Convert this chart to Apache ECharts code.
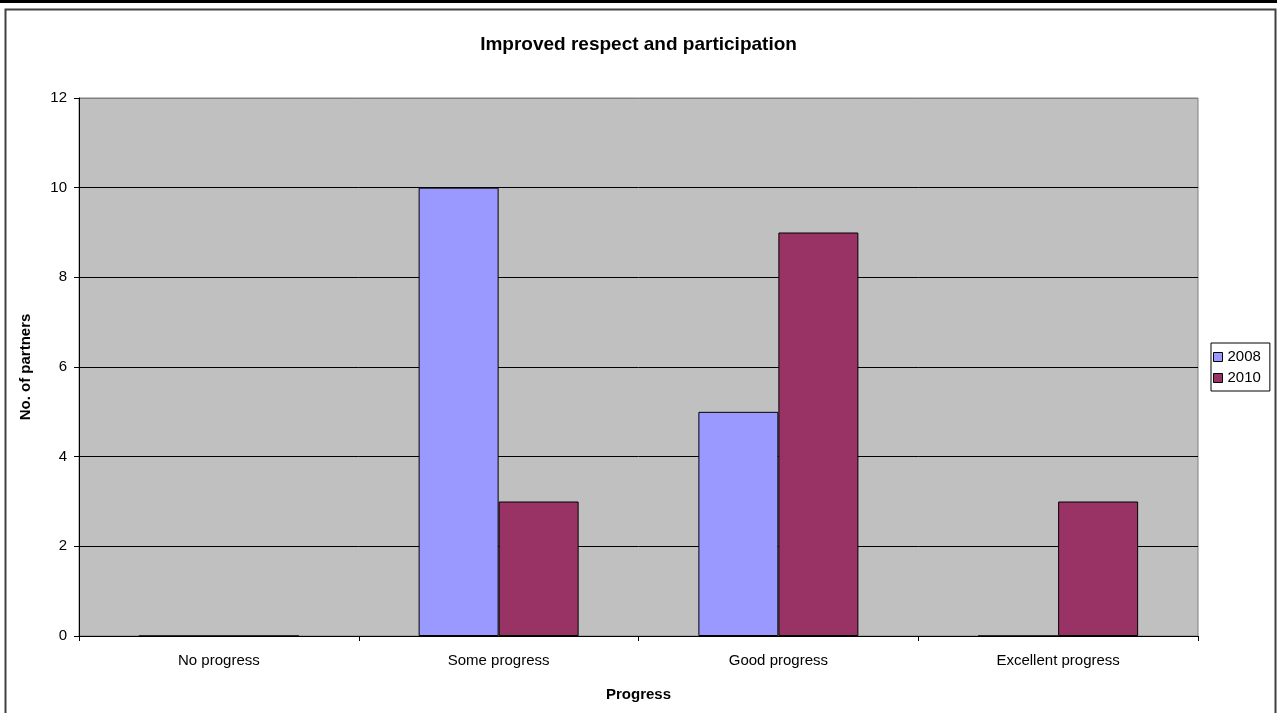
<!DOCTYPE html>
<html>
<head>
<meta charset="utf-8">
<script src="https://cdn.jsdelivr.net/npm/echarts@6/dist/echarts.min.js"></script>
<style>
  html, body { margin: 0; padding: 0; background: #fff; }
  #chart { width: 1277px; height: 713px; }
</style>
</head>
<body>
<div id="chart"></div>
<script>
// Category labels along the x axis
const categories = ['No progress', 'Some progress', 'Good progress', 'Excellent progress'];
// Number of partners per year
const values2008 = [0, 10, 5, 0];
const values2010 = [0, 3, 9, 3];
const seriesNames = ['2008', '2010'];

const chart = echarts.init(document.getElementById('chart'));
const font = 'Liberation Sans, Arial, sans-serif';

chart.setOption({
  animation: false,
  backgroundColor: '#ffffff',
  title: {
    text: 'Improved respect and participation',
    left: 'center',
    top: 30,
    textStyle: { fontFamily: font, fontSize: 19, fontWeight: 'bold', color: '#000' }
  },
  legend: {
    orient: 'vertical',
    left: 1211,
    top: 343,
    padding: [6, 9, 5, 2],
    itemGap: 5,
    itemWidth: 9,
    itemHeight: 9,
    borderColor: '#000',
    borderWidth: 1,
    icon: 'rect',
    textStyle: { fontFamily: font, fontSize: 15, lineHeight: 16, color: '#000' },
    data: seriesNames.map(n => ({ name: n, itemStyle: { borderColor: '#000', borderWidth: 1 } }))
  },
  grid: {
    left: 79, top: 98, width: 1119, height: 538,
    show: true, backgroundColor: '#c0c0c0', borderColor: '#808080', borderWidth: 1
  },
  xAxis: {
    type: 'category',
    data: categories,
    name: 'Progress',
    nameLocation: 'middle',
    nameGap: 51,
    nameTextStyle: { fontFamily: font, fontSize: 15, fontWeight: 'bold', color: '#000' },
    axisLine: { lineStyle: { color: '#000', width: 1 } },
    axisTick: { show: true, length: 5, lineStyle: { color: '#000' } },
    axisLabel: { fontFamily: font, fontSize: 15, color: '#000', margin: 17 }
  },
  yAxis: {
    type: 'value',
    min: 0, max: 12, interval: 2,
    name: 'No. of partners',
    nameLocation: 'middle',
    nameGap: 46,
    nameRotate: 90,
    nameTextStyle: { fontFamily: font, fontSize: 15, fontWeight: 'bold', color: '#000' },
    axisLine: { show: true, lineStyle: { color: '#000', width: 1 } },
    axisTick: { show: true, length: 5, lineStyle: { color: '#000' } },
    axisLabel: { fontFamily: font, fontSize: 15, color: '#000', margin: 12 },
    splitLine: {
      show: true,
      lineStyle: { color: ['#000', '#000', '#000', '#000', '#000', '#000', '#808080'], width: 1 }
    }
  },
  series: [
    {
      name: seriesNames[0], type: 'bar', data: values2008,
      barWidth: 80, barGap: '0%',
      itemStyle: { color: '#9999ff', borderColor: '#000', borderWidth: 1 }
    },
    {
      name: seriesNames[1], type: 'bar', data: values2010,
      barWidth: 80, barGap: '0%',
      itemStyle: { color: '#993366', borderColor: '#000', borderWidth: 1 }
    }
  ],
  graphic: [
    { type: 'rect', shape: { x: 0, y: 0, width: 1277, height: 3 }, style: { fill: '#000' }, silent: true },
    { type: 'rect', shape: { x: 5.5, y: 9.5, width: 1270, height: 720 },
      style: { fill: null, stroke: '#404040', lineWidth: 2 }, silent: true }
  ]
});
</script>
</body>
</html>
